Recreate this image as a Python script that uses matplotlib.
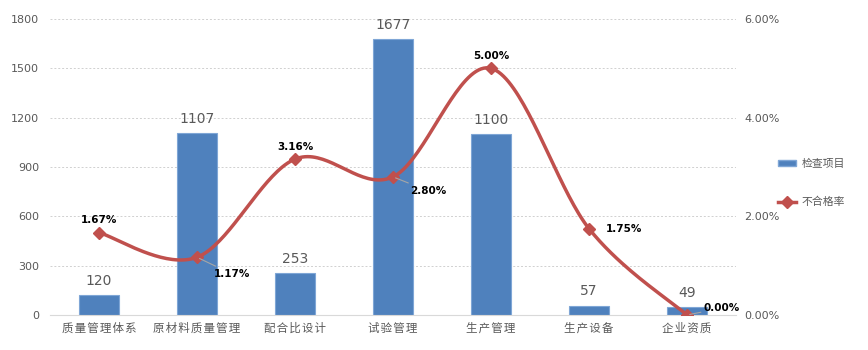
import matplotlib
matplotlib.use("Agg")
import matplotlib.pyplot as plt
from matplotlib.lines import Line2D
from matplotlib.patches import Patch
import numpy as np

plt.rcParams['font.family'] = ['Noto Sans CJK SC', 'DejaVu Sans']

categories = ["质量管理体系", "原材料质量管理", "配合比设计", "试验管理", "生产管理", "生产设备", "企业资质"]
counts = [120, 1107, 253, 1677, 1100, 57, 49]
rates = [1.67, 1.17, 3.16, 2.80, 5.00, 1.75, 0.00]
left_ticks = [0, 300, 600, 900, 1200, 1500, 1800]
right_ticks = [0, 2, 4, 6]

bar_color = "#4F81BD"
line_color = "#C0504D"
gray = "#595959"

fig = plt.figure(figsize=(8.68, 3.5), dpi=100)
ax = fig.add_axes([50/868, 1-315/350, 686/868, (315-19)/350])
ax2 = ax.twinx()

x = np.arange(len(categories))
ax.bar(x, counts, width=0.4, color=bar_color, edgecolor="#7FA6D6", linewidth=0.8, zorder=2)
ax.set_xlim(-0.5, len(categories)-0.5)
ax.set_ylim(0, 1800)
ax.set_yticks(left_ticks)
ax.set_yticklabels([str(t) for t in left_ticks], color=gray, fontsize=8, family='DejaVu Sans')
ax.set_xticks(x)
ax.set_xticklabels(["\u200a".join(c) for c in categories], color=gray, fontsize=8.3)
ax.tick_params(axis='both', length=0, pad=5)
ax.tick_params(axis='y', pad=8)
ax.grid(axis='y', color="#D0D0D0", linestyle=(0, (2, 2)), linewidth=0.7, zorder=0)
ax.set_axisbelow(True)
for s in ["top", "right", "left"]:
    ax.spines[s].set_visible(False)
ax.spines["bottom"].set_color("#D9D9D9")
for s in ax2.spines.values():
    s.set_visible(False)

for xi, c in zip(x, counts):
    ax.text(xi, c + 45, str(c), ha='center', va='bottom', color=gray, fontsize=10, family='DejaVu Sans')

# smooth line (Bezier smoothing similar to spreadsheet smoothed lines)
px = x.astype(float)
py = np.array(rates, dtype=float)
sx, sy = [], []
n = len(px)
for i in range(n-1):
    p0 = (px[max(i-1, 0)], py[max(i-1, 0)])
    p1 = (px[i], py[i])
    p2 = (px[i+1], py[i+1])
    p3 = (px[min(i+2, n-1)], py[min(i+2, n-1)])
    c1 = (p1[0] + (p2[0]-p0[0])/6, p1[1] + (p2[1]-p0[1])/6)
    c2 = (p2[0] - (p3[0]-p1[0])/6, p2[1] - (p3[1]-p1[1])/6)
    t = np.linspace(0, 1, 40)
    bx = (1-t)**3*p1[0] + 3*(1-t)**2*t*c1[0] + 3*(1-t)*t**2*c2[0] + t**3*p2[0]
    by = (1-t)**3*p1[1] + 3*(1-t)**2*t*c1[1] + 3*(1-t)*t**2*c2[1] + t**3*p2[1]
    sx.extend(bx)
    sy.extend(by)
ax2.plot(sx, sy, color=line_color, linewidth=2.5, zorder=3, solid_capstyle='round')
ax2.plot(px, py, linestyle='none', marker='D', markersize=6, color=line_color, zorder=4)
ax2.set_ylim(0, 6)
ax2.set_yticks(right_ticks)
ax2.set_yticklabels([f"{t:.2f}%" for t in right_ticks], color=gray, fontsize=8, family='DejaVu Sans')
ax2.tick_params(axis='y', length=0, pad=6)

# rate labels (offset in points)
offsets = [(0, 9, 'center'), (12, -12, 'left'), (0, 9, 'center'), (12, -10, 'left'),
           (0, 9, 'center'), (12, 0, 'left'), (12, 5, 'left')]
leaders = [False, True, False, True, False, False, True]
for xi, r, (dx, dy, ha), ld in zip(px, rates, offsets, leaders):
    ax2.annotate(f"{r:.2f}%", (xi, r), xytext=(dx, dy), textcoords='offset points',
                 ha=ha, va='center', fontsize=7.5, fontweight='bold', color='black',
                 family='DejaVu Sans', zorder=5,
                 arrowprops=dict(arrowstyle='-', color='#A6A6A6', lw=0.8, shrinkA=0, shrinkB=2) if ld else None)

handles = [Patch(facecolor=bar_color, edgecolor="#7FA6D6", label="检查项目"),
           Line2D([0], [0], color=line_color, lw=2.5, marker='D', markersize=6, label="不合格率")]
fig.legend(handles=handles, loc='center left', bbox_to_anchor=(768/868, 1-183/350),
           frameon=False, fontsize=7.8, labelcolor=gray, handlelength=1.7, handleheight=0.6,
           handletextpad=0.5, labelspacing=2.6)

fig.savefig("out.png", dpi=100)
